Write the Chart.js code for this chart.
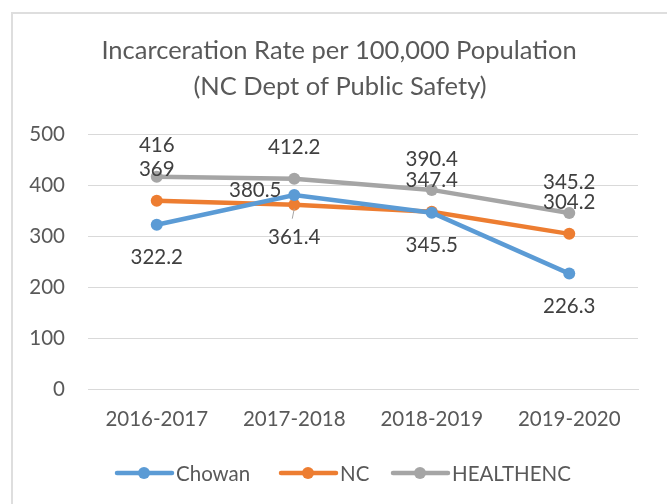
<!DOCTYPE html>
<html>
<head>
<meta charset="utf-8">
<script src="https://cdn.jsdelivr.net/npm/chart.js@4/dist/chart.umd.min.js"></script>
<style>
  body { margin: 0; background: #fff; }
  #wrap { position: relative; width: 667px; height: 504px; overflow: hidden; }
  #frame { position: absolute; left: 11px; top: 12px; width: 700px; height: 520px; border: 2px solid #dedede; }
  canvas { position: absolute; left: 0; top: 0; }
</style>
</head>
<body>
<div id="wrap">
  <div id="frame"></div>
  <canvas id="chart" width="667" height="504"></canvas>
</div>
<script>
// chart data
const categories = ["2016-2017", "2017-2018", "2018-2019", "2019-2020"];
const chowan = [322.2, 380.5, 345.5, 226.3];
const nc = [369, 361.4, 347.4, 304.2];
const healthenc = [416, 412.2, 390.4, 345.2];
const yTicks = [0, 100, 200, 300, 400, 500];

// where each data label sits relative to its point
const labelPos = [
  ["below", "left", "below", "below"],
  ["above", "below", "above", "above"],
  ["above", "above", "above", "above"]
];

const FONT = "Lato, 'Open Sans', sans-serif";
const TXT = 20.5;

// draws title, data labels and legend (Excel look)
const excelBits = {
  id: "excelBits",
  afterDatasetsDraw(chart) {
    const ctx = chart.ctx;
    ctx.save();
    ctx.textAlign = "center";
    ctx.textBaseline = "middle";

    // title
    ctx.fillStyle = "#595959";
    ctx.font = "25.5px " + FONT;
    ctx.fillText("Incarceration Rate per 100,000 Population", 339, 51);
    ctx.fillText("(NC Dept of Public Safety)", 340, 87);

    // data labels
    ctx.font = TXT + "px " + FONT;
    ctx.fillStyle = "#404040";
    chart.data.datasets.forEach((ds, i) => {
      const meta = chart.getDatasetMeta(i);
      meta.data.forEach((pt, j) => {
        const pos = labelPos[i][j];
        let x = pt.x, y = pt.y;
        if (pos === "above") y -= 31;
        else if (pos === "below") y += 33;
        else if (pos === "left") { x -= 39; y -= 5; }
        ctx.fillText(String(ds.data[j]), x, y);
      });
    });

    // small leader line under 361.4
    const p = chart.getDatasetMeta(1).data[1];
    ctx.strokeStyle = "#a6a6a6";
    ctx.lineWidth = 1;
    ctx.beginPath();
    ctx.moveTo(p.x, p.y + 4);
    ctx.lineTo(p.x - 2, p.y + 14);
    ctx.stroke();

    // legend
    const items = [
      { label: "Chowan", color: "#5B9BD5", x: 117 },
      { label: "NC", color: "#ED7D31", x: 281 },
      { label: "HEALTHENC", color: "#A5A5A5", x: 393 }
    ];
    const ly = 473;
    ctx.textAlign = "left";
    ctx.font = TXT + "px " + FONT;
    items.forEach(it => {
      ctx.strokeStyle = it.color;
      ctx.lineWidth = 4.5;
      ctx.lineCap = "round";
      ctx.beginPath();
      ctx.moveTo(it.x, ly);
      ctx.lineTo(it.x + 55, ly);
      ctx.stroke();
      ctx.fillStyle = it.color;
      ctx.beginPath();
      ctx.arc(it.x + 27, ly, 6, 0, Math.PI * 2);
      ctx.fill();
      ctx.fillStyle = "#595959";
      ctx.fillText(it.label, it.x + 59, ly + 1);
    });
    ctx.restore();
  }
};

function series(label, data, color) {
  return {
    label: label,
    data: data,
    borderColor: color,
    backgroundColor: color,
    borderWidth: 4.5,
    pointRadius: 6,
    pointHoverRadius: 6,
    pointBorderWidth: 0,
    tension: 0
  };
}

new Chart(document.getElementById("chart"), {
  type: "line",
  data: {
    labels: categories,
    datasets: [
      series("Chowan", chowan, "#5B9BD5"),
      series("NC", nc, "#ED7D31"),
      series("HEALTHENC", healthenc, "#A5A5A5")
    ]
  },
  options: {
    responsive: false,
    animation: false,
    layout: { padding: { top: 134, right: 29, bottom: 70, left: 0 } },
    plugins: {
      legend: { display: false },
      title: { display: false },
      tooltip: { enabled: false }
    },
    scales: {
      x: {
        offset: true,
        grid: { display: false, drawTicks: false },
        border: { display: true, color: "#d9d9d9", width: 1 },
        ticks: { color: "#595959", font: { family: FONT, size: TXT }, padding: 18, maxRotation: 0 },
        afterFit(s) { s.height = 45; }
      },
      y: {
        min: 0,
        max: 500,
        afterBuildTicks(s) { s.ticks = yTicks.map(v => ({ value: v })); },
        grid: { color: "#d9d9d9", lineWidth: 1, drawTicks: false },
        border: { display: false },
        ticks: { color: "#595959", font: { family: FONT, size: TXT }, padding: 23 },
        afterFit(s) { s.width = 88; }
      }
    }
  },
  plugins: [excelBits]
});
</script>
</body>
</html>
